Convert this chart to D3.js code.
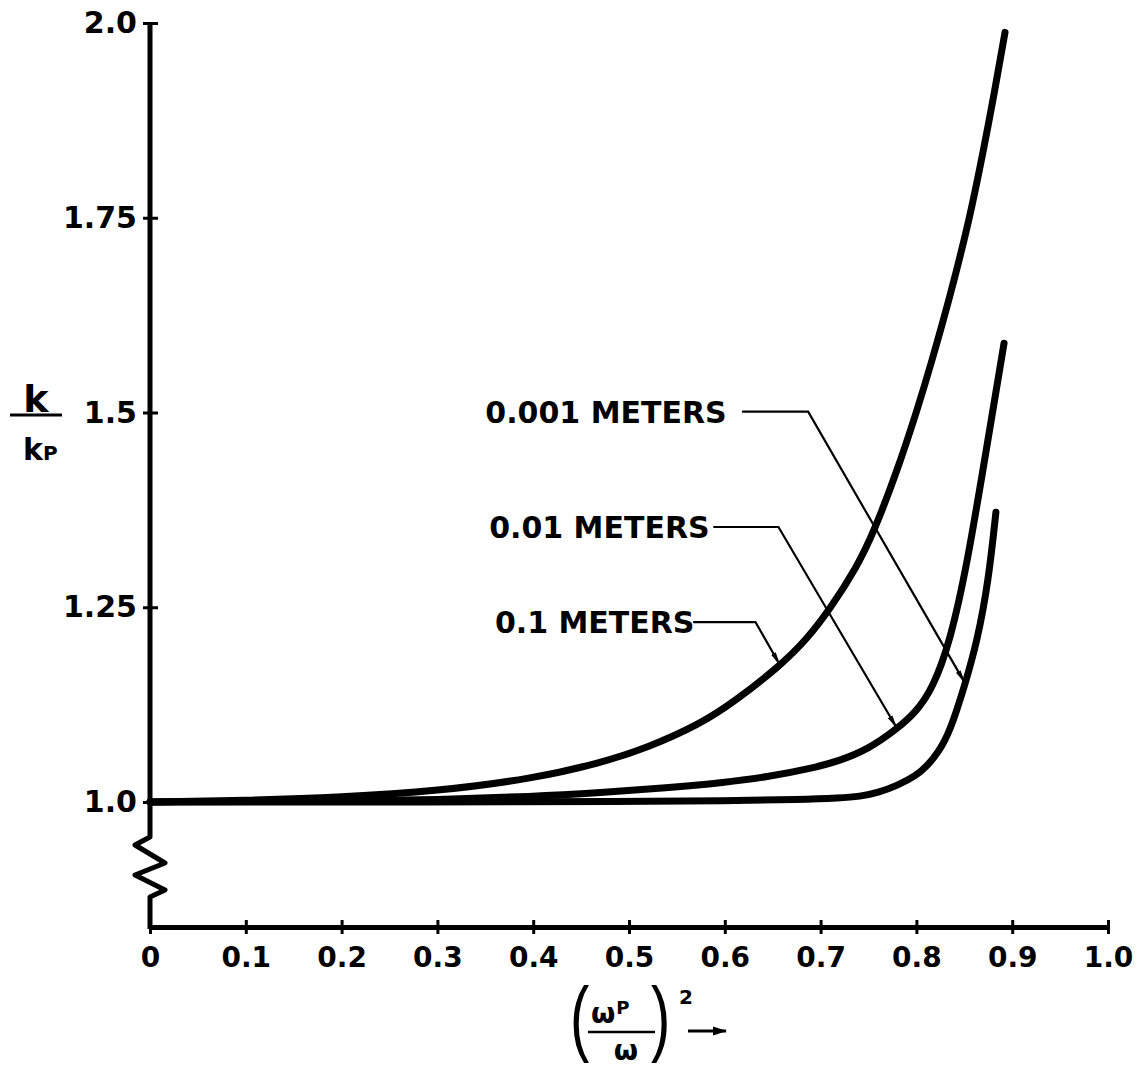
<!DOCTYPE html>
<html>
<head>
<meta charset="utf-8">
<script src="https://cdn.jsdelivr.net/npm/d3@7"></script>
<style>
  body { margin: 0; background: #fff; }
  text { font-family: "DejaVu Sans", sans-serif; font-weight: bold; fill: #000; }
</style>
</head>
<body>
<svg id="chart" width="1148" height="1066"></svg>
<script>
// x ticks and labels
const xTicks = [0, 0.1, 0.2, 0.3, 0.4, 0.5, 0.6, 0.7, 0.8, 0.9, 1.0]
const xTickLabels = ['0', '0.1', '0.2', '0.3', '0.4', '0.5', '0.6', '0.7', '0.8', '0.9', '1.0']
// y ticks and labels
const yTicks = [1.0, 1.25, 1.5, 1.75, 2.0]
const yTickLabels = ['1.0', '1.25', '1.5', '1.75', '2.0']

// curves: (wp/w)^2 vs k/kp
const x01 = [0, 0.1, 0.2, 0.3, 0.4, 0.47, 0.52, 0.574, 0.609, 0.658, 0.685, 0.71, 0.738, 0.755, 0.78, 0.802, 0.814, 0.835, 0.856, 0.870, 0.880, 0.8925]
const k01 = [1.0, 1.002, 1.006, 1.014, 1.030, 1.050, 1.070, 1.100, 1.128, 1.175, 1.208, 1.248, 1.302, 1.345, 1.425, 1.508, 1.557, 1.648, 1.751, 1.837, 1.901, 1.988]
const x001 = [0, 0.2, 0.3, 0.4, 0.47, 0.54, 0.6, 0.644, 0.69, 0.72, 0.75, 0.78, 0.80, 0.817, 0.835, 0.853, 0.872, 0.8915]
const k001 = [1.0, 1.001, 1.003, 1.007, 1.012, 1.018, 1.025, 1.032, 1.043, 1.053, 1.068, 1.094, 1.116, 1.146, 1.205, 1.305, 1.445, 1.589]
const x0001 = [0, 0.3, 0.5, 0.6, 0.68, 0.72, 0.741, 0.76, 0.78, 0.8, 0.811, 0.823, 0.835, 0.851, 0.863, 0.875, 0.883]
const k0001 = [1.0, 1.0, 1.0005, 1.0015, 1.003, 1.005, 1.007, 1.012, 1.021, 1.034, 1.046, 1.064, 1.09, 1.152, 1.204, 1.281, 1.372]

// annotation labels (in data units)
const labelText = ['0.001 METERS', '0.01 METERS', '0.1 METERS']
const labelX = [0.350, 0.354, 0.360]
const labelY = [1.501, 1.353, 1.231]
const leadStartX = [0.618, 0.588, 0.567]
const elbowX = [0.687, 0.656, 0.632]
const tipX = [0.851, 0.780, 0.658]
const tipY = [1.152, 1.094, 1.175]

const svg = d3.select('#chart')
const x = d3.scaleLinear().domain([0, 1]).range([150, 1108])
const y = d3.scaleLinear().domain([1, 2]).range([802, 23])
const baseY = 927

const defs = svg.append('defs')
defs.append('marker')
  .attr('id', 'head')
  .attr('viewBox', '0 -3 14 6')
  .attr('refX', 14).attr('refY', 0)
  .attr('markerWidth', 14).attr('markerHeight', 6)
  .attr('markerUnits', 'userSpaceOnUse')
  .attr('orient', 'auto')
  .append('path').attr('d', 'M0,-2.6L14,0L0,2.6Z').attr('fill', '#000')
defs.append('marker')
  .attr('id', 'head2')
  .attr('viewBox', '0 -5 14 10')
  .attr('refX', 13).attr('refY', 0)
  .attr('markerWidth', 14).attr('markerHeight', 10)
  .attr('markerUnits', 'userSpaceOnUse')
  .attr('orient', 'auto')
  .append('path').attr('d', 'M0,-4.5L14,0L0,4.5Z').attr('fill', '#000')

// x axis
const gx = svg.append('g')
  .attr('transform', 'translate(0,' + baseY + ')')
  .call(d3.axisBottom(x).tickValues(xTicks)
    .tickFormat((d, i) => xTickLabels[i])
    .tickSize(6).tickSizeOuter(0))
gx.select('.domain').attr('stroke', '#000').attr('stroke-width', 5)
gx.selectAll('.tick line').attr('y1', -7).attr('y2', 7).attr('stroke-width', 3)
gx.selectAll('.tick text').attr('y', 40).attr('dy', 0).style('font-size', '28px')

// y axis with break below 1.0
const x0 = x(0)
const y1 = y(1)
svg.append('path')
  .attr('d', 'M' + x0 + ',' + y(2) + 'V' + (y1 + 35) +
    'L' + (x0 - 15) + ',' + (y1 + 43) +
    'L' + (x0 + 15) + ',' + (y1 + 61) +
    'L' + (x0 - 15) + ',' + (y1 + 73) +
    'L' + (x0 + 15) + ',' + (y1 + 88) +
    'L' + x0 + ',' + (y1 + 95) + 'V' + (baseY + 2))
  .attr('fill', 'none').attr('stroke', '#000').attr('stroke-width', 5)
  .attr('stroke-linejoin', 'round')

const gy = svg.append('g')
  .attr('transform', 'translate(' + x0 + ',0)')
  .call(d3.axisLeft(y).tickValues(yTicks)
    .tickFormat((d, i) => yTickLabels[i])
    .tickSize(7).tickSizeOuter(0))
gy.select('.domain').remove()
gy.selectAll('.tick line').attr('x1', -7).attr('x2', 8).attr('stroke-width', 3)
gy.selectAll('.tick text').attr('x', -13).style('font-size', '30px')

// curves
const line = d3.line().x(d => x(d[0])).y(d => y(d[1])).curve(d3.curveBasis)
const series = [d3.zip(x01, k01), d3.zip(x001, k001), d3.zip(x0001, k0001)]
svg.selectAll('.curve').data(series).enter().append('path')
  .attr('class', 'curve')
  .attr('d', line)
  .attr('fill', 'none').attr('stroke', '#000').attr('stroke-width', 7)
  .attr('stroke-linecap', 'round')

// annotations
labelText.forEach((t, i) => {
  svg.append('text').attr('x', x(labelX[i])).attr('y', y(labelY[i]))
    .attr('dy', '0.36em').style('font-size', '30px').text(t)
  svg.append('path')
    .attr('d', 'M' + x(leadStartX[i]) + ',' + y(labelY[i]) +
      'H' + x(elbowX[i]) + 'L' + x(tipX[i]) + ',' + y(tipY[i]))
    .attr('fill', 'none').attr('stroke', '#000').attr('stroke-width', 2.2)
    .attr('marker-end', 'url(#head)')
})

// y axis title k / kP
svg.append('text').attr('x', 36).attr('y', 412).attr('text-anchor', 'middle')
  .style('font-size', '38px').text('k')
svg.append('line').attr('x1', 10).attr('x2', 62).attr('y1', 415).attr('y2', 415)
  .attr('stroke', '#000').attr('stroke-width', 3)
const kp = svg.append('text').attr('x', 23).attr('y', 460).style('font-size', '30px')
kp.append('tspan').text('k')
kp.append('tspan').style('font-size', '20px').text('P')

// x axis title (wP / w)^2 ->
const paren = (px, ch) => svg.append('text')
  .attr('transform', 'translate(' + px + ',1046) scale(1,1.45)')
  .style('font-family', '"Liberation Sans", sans-serif').style('font-weight', 'normal')
  .style('font-size', '58px').text(ch)
paren(570, '(')
paren(651, ')')
const wp = svg.append('text').attr('x', 591).attr('y', 1023).style('font-size', '28px')
wp.append('tspan').text('ω')
wp.append('tspan').attr('dx', 1).attr('dy', -9).style('font-size', '18px').text('P')
svg.append('line').attr('x1', 588).attr('x2', 655).attr('y1', 1032).attr('y2', 1032)
  .attr('stroke', '#000').attr('stroke-width', 2.5)
svg.append('text').attr('x', 626).attr('y', 1060).attr('text-anchor', 'middle')
  .style('font-size', '28px').text('ω')
svg.append('text').attr('x', 679).attr('y', 1004).style('font-size', '20px').text('2')
svg.append('line').attr('x1', 688).attr('x2', 726).attr('y1', 1031).attr('y2', 1031)
  .attr('stroke', '#000').attr('stroke-width', 3).attr('marker-end', 'url(#head2)')
</script>
</body>
</html>
